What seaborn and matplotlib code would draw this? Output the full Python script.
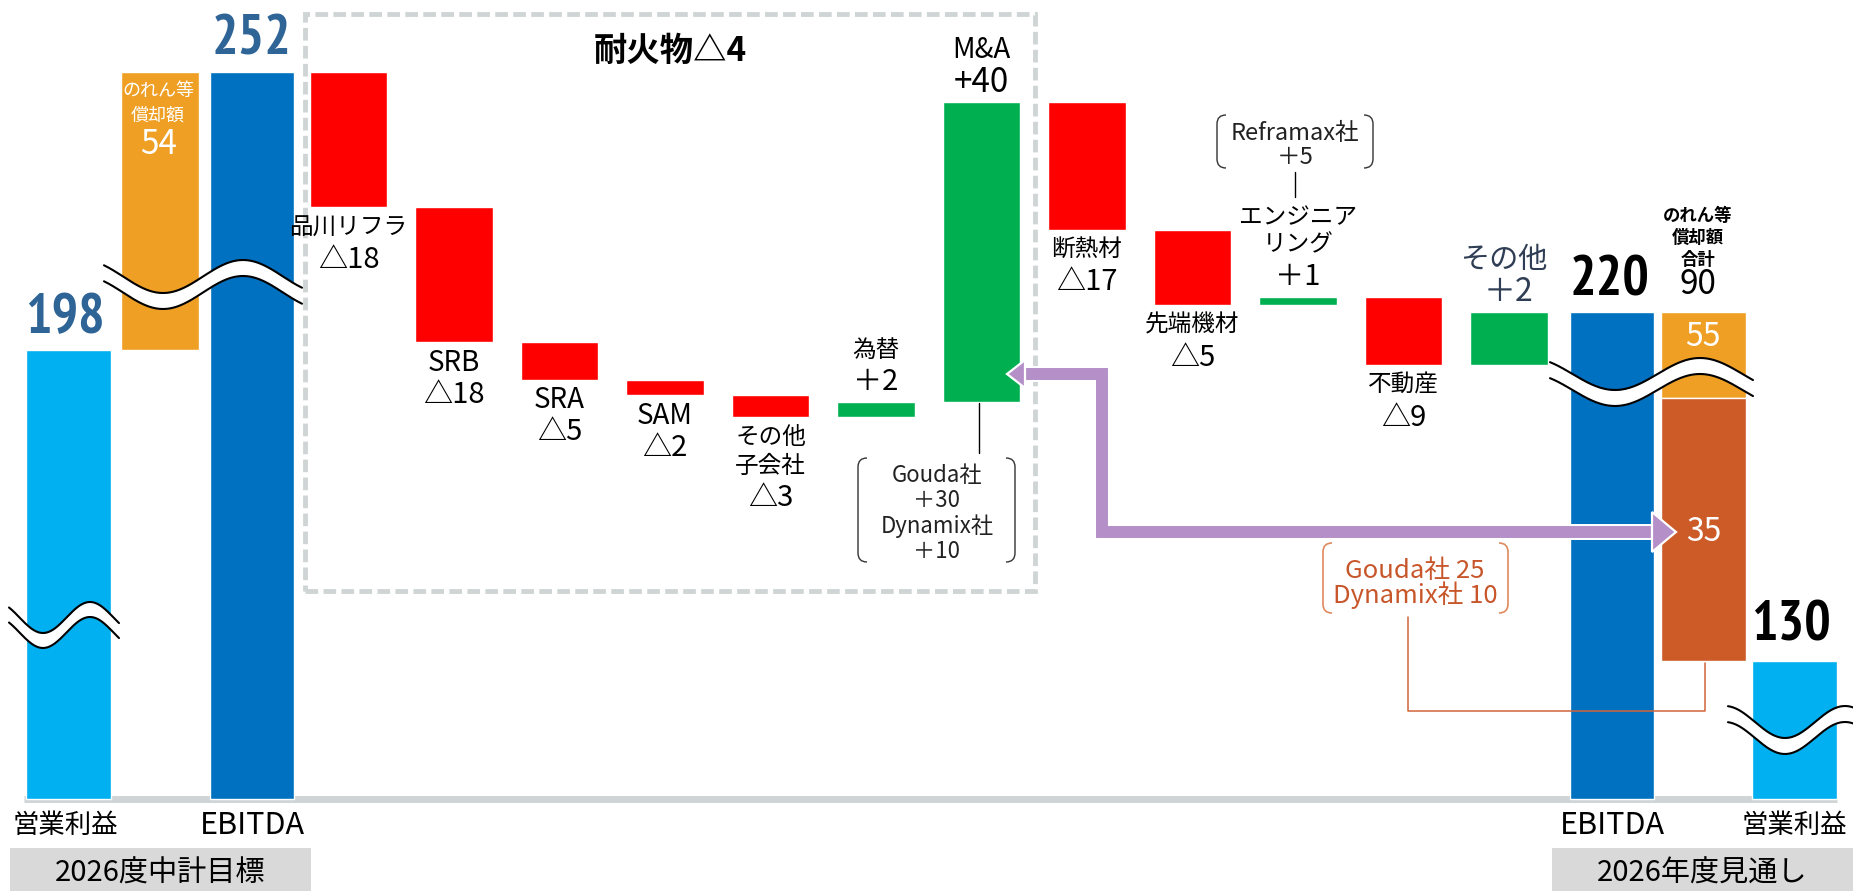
import os
import numpy as np
import matplotlib
matplotlib.use("Agg")
import matplotlib.pyplot as plt
import matplotlib.patheffects as pe
from matplotlib import font_manager as fm
from matplotlib.patches import Rectangle, Polygon, PathPatch
from matplotlib.path import Path
import seaborn as sns

# ---------------- data ----------------
plan_names = ["営業利益", "EBITDA"]
plan_values = [198, 252]
plan_amort = 54
plan_amort_drawn = 37            # broken bar: visible height in chart units

step_names = ["品川リフラ", "SRB", "SRA", "SAM", "その他\n子会社", "為替",
              "M&A", "断熱材", "先端機材", "エンジニア\nリング", "不動産", "その他"]
step_values = [-18, -18, -5, -2, -3, 2, 40, -17, -5, 1, -9, 2]
step_labels = ["△18", "△18", "△5", "△2", "△3", "＋2", "+40", "△17", "△5", "＋1", "△9", "＋2"]
step_drawn = [-18, -18, -5, -2, -3, 2, 40, -17, -10, 1, -9, 7]   # schematic heights as drawn

fcst_names = ["EBITDA", "営業利益"]
fcst_values = [220, 130]
fcst_amort_total = 90
fcst_amort_parts = [55, 35]
fcst_amort_drawn = [11.5, 35]    # 55 is shown broken

group_labels = ["2026度中計目標", "2026年度見通し"]
refractory_label = "耐火物△4"
ma_detail = ["Gouda社", "＋30", "Dynamix社", "＋10"]
eng_detail = ["Reframax社", "＋5"]
amort_detail = ["Gouda社 25", "Dynamix社 10"]
amort_label = ["のれん等", "償却額"]
amort_total_label = ["のれん等", "償却額", "合計"]

# ---------------- style ----------------
C_OP, C_EB = "#00B0F0", "#0070C0"
C_AM, C_AM2 = "#EE9F24", "#CC5B28"
C_NEG, C_POS = "#FF0000", "#00B050"
C_ARROW, C_LINE = "#B48FC8", "#CFD4D5"
C_NUM, C_ORG = "#2E6496", "#D0643A"
C_OTHER = "#2F3E55"

sns.set_theme(style="white")
JP = ["Noto Sans CJK JP", "DejaVu Sans"]
plt.rcParams["font.family"] = JP


def _wnum(w):
    if isinstance(w, str):
        return fm.weight_dict.get(w, 400)
    return w


def condensed_bold():
    best, best_score = None, -1
    for f in fm.fontManager.ttflist:
        key = (f.name + " " + os.path.basename(f.fname)).lower()
        score = 0
        if "narrow" in key:
            score += 3
        if "condensed" in key or "cond" in key or str(f.stretch) in (
                "condensed", "semi-condensed", "extra-condensed"):
            score += 2
        if score == 0:
            continue
        if _wnum(f.weight) >= 600 or "bold" in key:
            score += 2
        if "italic" in key or "oblique" in key or f.style != "normal":
            continue
        if score > best_score:
            best, best_score = f.fname, score
    return best


_cf = condensed_bold()
if _cf:
    def NUMFP(size):
        return fm.FontProperties(fname=_cf, size=size)
    BIG = 40
else:
    def NUMFP(size):
        return fm.FontProperties(family=["Roboto Condensed", "Roboto", "DejaVu Sans"],
                                 weight="bold", size=size)
    BIG = 34

W, H = 1853, 891
fig = plt.figure(figsize=(W / 100, H / 100), dpi=100)
ax = fig.add_axes([0, 0, 1, 1])

# layout: x unit = waterfall spacing, y unit = chart value (7.5 px per unit)
PXX, PXY = 105.5, 7.5
def X(px):
    return 3 + (np.asarray(px, dtype=float) - 348.5) / PXX
def Y(py):
    return plan_values[1] - (np.asarray(py, dtype=float) - 72) / PXY

ax.set_xlim(X(0), X(W))
ax.set_ylim(Y(H), Y(0))
ax.axis("off")

BASE = float(Y(799))
W_STEP, W_TOT = 0.73, 0.80

wf_x = 3 + np.arange(len(step_values))
plan_eb_x = wf_x[0] - 0.915
plan_am_x = plan_eb_x - 0.87
plan_op_x = plan_eb_x - 1.74
fcst_eb_x = wf_x[-1] + 0.977
fcst_am_x = fcst_eb_x + 0.865
fcst_op_x = fcst_eb_x + 1.73


def ann(txt, x, y, dy, size, color="black", family=JP, weight="normal", ls=1.0, fp=None):
    kw = dict(fontproperties=fp) if fp is not None else dict(
        fontsize=size, family=family, fontweight=weight)
    ax.annotate(txt, xy=(x, y), xytext=(0, dy), textcoords="offset pixels",
                ha="center", va="center", color=color, linespacing=ls, zorder=10, **kw)


def is_ascii(s):
    return all(ord(c) < 128 for c in s)


# baseline
ax.plot([X(24), X(1837)], [BASE, BASE], color=C_LINE, lw=5, zorder=1,
        solid_capstyle="butt")

# ---- plan (left) ----
plan_op_top = plan_values[1] - plan_amort_drawn
ax.bar(plan_op_x, plan_op_top - BASE, bottom=BASE, width=W_TOT, color=C_OP, zorder=2)
ax.bar(plan_am_x, plan_amort_drawn, bottom=plan_op_top, width=0.74, color=C_AM, zorder=2)
ax.bar(plan_eb_x, plan_values[1] - BASE, bottom=BASE, width=W_TOT, color=C_EB, zorder=2)
ann(str(plan_values[0]), plan_op_x - 0.03, plan_op_top, 31, 0, C_NUM, fp=NUMFP(BIG))
ann(str(plan_values[1]), plan_eb_x, plan_values[1], 32, 0, C_NUM, fp=NUMFP(BIG))
ann(amort_label[0], plan_am_x - 0.02, plan_values[1], -19, 13, "white")
ann(amort_label[1], plan_am_x - 0.02, plan_values[1], -44, 13, "white")
ann(str(plan_amort), plan_am_x - 0.02, plan_values[1], -73, 24, "white")

# ---- waterfall ----
level = plan_values[1]
for i, (nm, v, lab, d) in enumerate(zip(step_names, step_values, step_labels, step_drawn)):
    lo, hi = min(level, level + d), max(level, level + d)
    ax.bar(wf_x[i], hi - lo, bottom=lo, width=W_STEP,
           color=C_NEG if v < 0 else C_POS, zorder=2)
    lines = nm.split("\n")
    last = i == len(step_values) - 1
    col = C_OTHER if last else "black"
    ns, vs = (21, 23) if last else (17, 21)
    if is_ascii(nm):
        ns = 20
    if lab.startswith("+"):
        vs = 24
    if v < 0:
        for k, ln in enumerate(lines):
            ann(ln, wf_x[i], lo, -(21 + 28 * k), ns, col)
        ann(lab, wf_x[i], lo, -(25 + 28 * len(lines)), vs, col)
    else:
        ann(lab, wf_x[i], hi, 20, vs, col)
        for k, ln in enumerate(reversed(lines)):
            ann(ln, wf_x[i] - (0.05 if last else 0), hi, 52 + 27 * k, ns, col)
    level += d

# ---- forecast (right) ----
ax.bar(fcst_eb_x, fcst_values[0] - BASE, bottom=BASE, width=W_TOT, color=C_EB, zorder=2)
am_mid = fcst_values[0] - fcst_amort_drawn[0]
am_low = am_mid - fcst_amort_drawn[1]
ax.bar(fcst_am_x, fcst_amort_drawn[0], bottom=am_mid, width=W_TOT, color=C_AM, zorder=2)
ax.bar(fcst_am_x, fcst_amort_drawn[1], bottom=am_low, width=W_TOT, color=C_AM2, zorder=2)
ax.bar(fcst_op_x, am_low - BASE, bottom=BASE, width=W_TOT, color=C_OP, zorder=2)
ann(str(fcst_values[0]), fcst_eb_x - 0.02, fcst_values[0], 31, 0, "black", fp=NUMFP(BIG))
ann(str(fcst_values[1]), fcst_op_x - 0.03, am_low, 35, 0, "black", fp=NUMFP(BIG))
for k, ln in enumerate(amort_total_label):
    ann(ln, fcst_am_x - 0.05, fcst_values[0], 96 - 22 * k, 12.5, "black", weight="bold")
ann(str(fcst_amort_total), fcst_am_x - 0.05, fcst_values[0], 27, 24, "black")
ann(str(fcst_amort_parts[0]), fcst_am_x, fcst_values[0], -25, 23, "white")
arrow_y = float(Y(532))
ann(str(fcst_amort_parts[1]), fcst_am_x, arrow_y, 0, 23, "white")

# ---- category labels & group bands ----
lab_y = float(Y(825))
ann(plan_names[0], plan_op_x - 0.03, lab_y, 0, 19)
ann(plan_names[1], plan_eb_x, lab_y, 0, 22)
ann(fcst_names[0], fcst_eb_x, lab_y, 0, 22)
ann(fcst_names[1], fcst_op_x, lab_y, 0, 19)
for (x0, x1), txt in zip([(10, 311), (1552, 1853)], group_labels):
    ax.add_patch(Rectangle((X(x0), Y(H)), X(x1) - X(x0), Y(848) - Y(H),
                           fc="#D9D9D9", ec="none", zorder=1))
    ann(txt, X((x0 + x1) / 2), Y(874), 0, 21)

# ---- dashed refractory box ----
bx0, bx1 = X(305), X(1035)
by0, by1 = Y(591), Y(14)
ax.add_patch(Rectangle((bx0, by0), bx1 - bx0, by1 - by0, fill=False, ec=C_LINE,
                       lw=3.5, ls=(0, (2.6, 1.1)), zorder=1))
ann(refractory_label, (bx0 + bx1) / 2, by1, -37, 24, weight="bold")


# ---- brackets ----
def bracket(x0, x1, y0, y1, color, lw=1.0, r=9):
    for xe, xi in ((x0, x0 + r), (x1, x1 - r)):
        verts = [(xi, y0), (xe, y0), (xe, y0 + r), (xe, y1 - r), (xe, y1), (xi, y1)]
        codes = [Path.MOVETO, Path.CURVE3, Path.CURVE3, Path.LINETO, Path.CURVE3, Path.CURVE3]
        verts = [(float(X(a)), float(Y(b))) for a, b in verts]
        ax.add_patch(PathPatch(Path(verts, codes), fill=False, ec=color, lw=lw, zorder=8))


# M&A detail
ax.plot([X(979), X(979)], [Y(403), Y(453)], color="black", lw=1.0, zorder=8)
bracket(858, 1015, 458, 562, "#333333")
for k, ln in enumerate(ma_detail):
    ann(ln, X(937), Y(475 + 25.5 * k), 0, 16, "#222222")

# engineering detail
bracket(1217, 1373, 115, 168, "#333333")
for k, ln in enumerate(eng_detail):
    ann(ln, X(1295), Y(133 + 25 * k), 0, 17, "#222222")
ax.plot([X(1295), X(1295)], [Y(172), Y(197)], color="black", lw=1.0, zorder=8)

# amortisation detail (orange)
bracket(1323, 1508, 543, 613, "#E08A5E", lw=1.2)
for k, ln in enumerate(amort_detail):
    ann(ln, X(1415), Y(571 + 24 * k), 0, 18.5, "#C8562B")
ax.plot(X([1408, 1408, 1705, 1705]), Y([617, 711, 711, 663]), color=C_ORG, lw=1.1, zorder=8)

# ---- purple arrow ----
stroke = [pe.Stroke(linewidth=11.5, foreground="white"), pe.Normal()]
ax.plot(X([1022, 1102, 1102, 1654]), Y([374, 374, 532, 532]), color=C_ARROW, lw=8.6,
        solid_joinstyle="miter", solid_capstyle="butt", zorder=9, path_effects=stroke)
for pts in ([(1007, 374), (1025, 360), (1025, 388)],
            [(1676, 532), (1652, 512), (1652, 552)]):
    ax.add_patch(Polygon([(float(X(a)), float(Y(b))) for a, b in pts], closed=True,
                         fc=C_ARROW, ec="white", lw=1.6, zorder=9))


# ---- axis-break waves ----
def wave(x_left, x_right, y_mid, amp, period, trough_x, gap=16):
    xs = np.linspace(x_left, x_right, 200)
    top = y_mid + amp * np.cos(2 * np.pi * (xs - trough_x) / period)
    bot = top + gap
    ax.fill_between(X(xs), Y(top), Y(bot), color="white", lw=0, zorder=6)
    ax.plot(X(xs), Y(top), color="black", lw=1.5, zorder=7)
    ax.plot(X(xs), Y(bot), color="black", lw=1.5, zorder=7)


wave(104, 302, 276.5, 16.5, 160, 163)
wave(9, 119, 617.5, 15.5, 94, 43, gap=15)
wave(1550, 1753, 374, 16, 170, 1615)
wave(1728, 1853, 722, 16, 120, 1785)

fig.savefig("out.png", dpi=100)
